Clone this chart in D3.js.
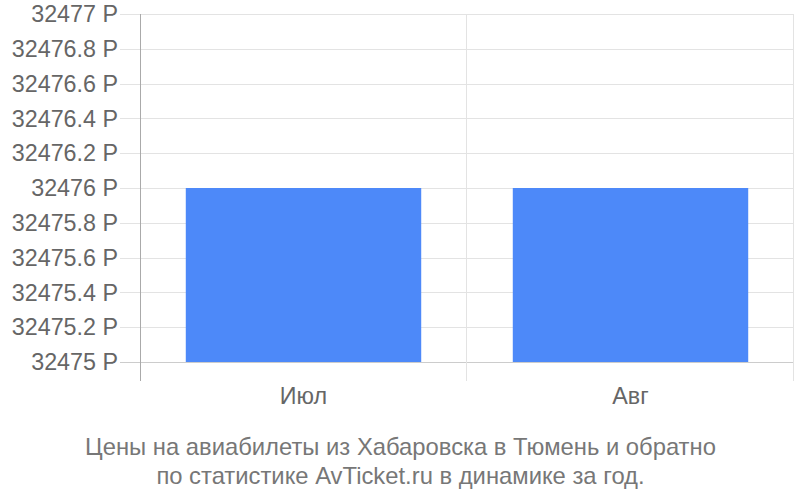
<!DOCTYPE html>
<html><head><meta charset="utf-8">
<script src="https://cdn.jsdelivr.net/npm/d3@7"></script>
<style>body{margin:0;background:#fff}svg{display:block}text{font-family:"Liberation Sans",Arial,sans-serif}</style>
</head><body>
<script>
const categories = ["Июл", "Авг"];
const values = [32476, 32476];
const yTicks = [32475, 32475.2, 32475.4, 32475.6, 32475.8, 32476, 32476.2, 32476.4, 32476.6, 32476.8, 32477];
const titleLines = ["Цены на авиабилеты из Хабаровска в Тюмень и обратно", "по статистике AvTicket.ru в динамике за год."];

(function () {
const W = 800, H = 500;
const pLeft = 140, pRight = 794, pTop = 14, pBottom = 362;
const svg = d3.select("body").append("svg").attr("width", W).attr("height", H);

const y = d3.scaleLinear().domain([32475, 32477]).range([pBottom, pTop]);
const x = d3.scaleBand().domain(categories).range([pLeft, pRight]).paddingInner(0.28).paddingOuter(0.14);
const xb = d3.scaleBand().domain(categories).range([pLeft, pRight]);

// horizontal grid
svg.append("g").selectAll("line").data(yTicks).join("line")
  .attr("x1", 120).attr("x2", pRight)
  .attr("y1", d => Math.round(y(d)) + 0.5).attr("y2", d => Math.round(y(d)) + 0.5)
  .attr("stroke", d => d === 32475 ? "#ccc" : "#e3e3e3").attr("stroke-width", 1);

// vertical grid
svg.append("g").selectAll("line").data(categories).join("line")
  .attr("x1", d => Math.round(xb(d) + xb.bandwidth()) - 0.5).attr("x2", d => Math.round(xb(d) + xb.bandwidth()) - 0.5)
  .attr("y1", pTop).attr("y2", 381)
  .attr("stroke", "#e3e3e3");

// bars
svg.append("g").selectAll("rect").data(categories).join("rect")
  .attr("x", d => x(d)).attr("width", x.bandwidth())
  .attr("y", (d, i) => y(values[i])).attr("height", (d, i) => pBottom - y(values[i]))
  .attr("fill", "#4d89f9");

// y axis line
svg.append("line").attr("x1", pLeft + 0.5).attr("x2", pLeft + 0.5).attr("y1", pTop).attr("y2", 381)
  .attr("stroke", "#aaa");

// y labels
svg.append("g").selectAll("text").data(yTicks).join("text")
  .attr("x", 118).attr("y", d => y(d)).attr("dy", "0.35em")
  .attr("text-anchor", "end").attr("fill", "#666").attr("font-size", 23.3)
  .text(d => d3.format("~")(+d.toFixed(1)) + " Р");

// x labels
svg.append("g").selectAll("text").data(categories).join("text")
  .attr("x", d => xb(d) + xb.bandwidth() / 2).attr("y", 404)
  .attr("text-anchor", "middle").attr("fill", "#666").attr("font-size", 23.3)
  .text(d => d);

// title
svg.append("g").selectAll("text").data(titleLines).join("text")
  .attr("x", 400.5).attr("y", (d, i) => 455 + i * 29)
  .attr("text-anchor", "middle").attr("fill", "#777").attr("font-size", 23.8)
  .text(d => d);
})();
</script>
</body></html>
